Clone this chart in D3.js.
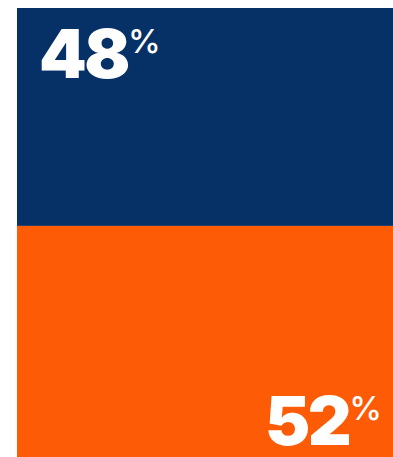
<!DOCTYPE html>
<html>
<head>
<meta charset="utf-8">
<script src="https://cdn.jsdelivr.net/npm/d3@7"></script>
<style>
  html, body { margin: 0; padding: 0; background: #ffffff; }
  svg { display: block; }
</style>
</head>
<body>
<svg id="chart" width="393" height="457"></svg>
<script>
// Two-part share split stacked top to bottom
const categories = ["Top", "Bottom"];
const values = [48, 52];
const colors = ["#063166", "#FE5B07"];

const svg = d3.select("#chart");
const W = 393, H = 457;

const x = d3.scaleLinear().domain([0, 1]).range([17, 393]);
const y = d3.scaleLinear().domain([0, 100]).range([8, 462]);

// cumulative starts
const stacked = [];
let acc = 0;
categories.forEach((c, i) => {
  stacked.push({ cat: c, value: values[i], y0: acc, y1: acc + values[i], color: colors[i] });
  acc += values[i];
});

svg.selectAll("rect.seg")
  .data(stacked)
  .join("rect")
  .attr("class", "seg")
  .attr("x", x(0))
  .attr("width", x(1) - x(0))
  .attr("y", d => y(d.y0))
  .attr("height", d => y(d.y1) - y(d.y0))
  .attr("fill", d => d.color);

const fontFamily = "Inter, 'Noto Sans', sans-serif";

function addLabel(d, i) {
  const top = i === 0;
  const t = svg.append("text")
    .attr("x", top ? x(0) + 22 : x(1) - 11)
    .attr("y", top ? y(d.y0) + 70 : H - 12)
    .attr("text-anchor", top ? "start" : "end")
    .attr("fill", "#ffffff")
    .attr("font-family", fontFamily);
  t.append("tspan")
    .attr("font-size", 68)
    .attr("font-weight", 900)
    .attr("letter-spacing", -2.5)
    .text(d.value);
  t.append("tspan")
    .attr("font-size", 33)
    .attr("font-weight", 500)
    .attr("dy", -25)
    .attr("dx", 0)
    .text("%");
}
stacked.forEach(addLabel);
</script>
</body>
</html>
